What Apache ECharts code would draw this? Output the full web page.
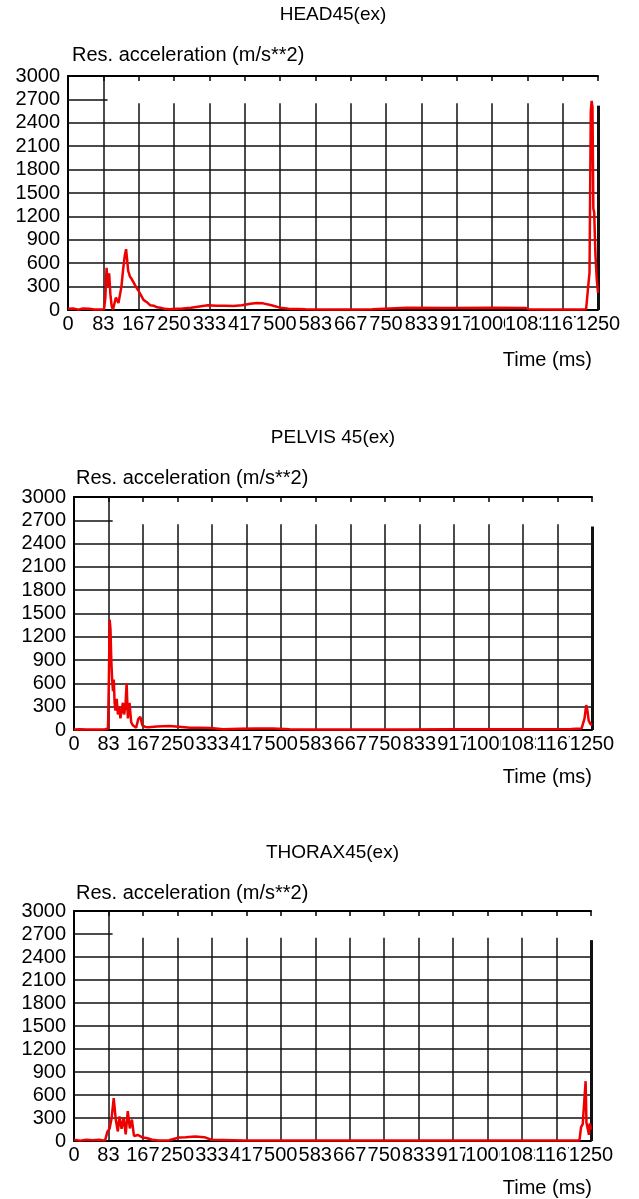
<!DOCTYPE html>
<html>
<head>
<meta charset="utf-8">
<title>Res. acceleration</title>
<script src="https://cdn.jsdelivr.net/npm/echarts@6/dist/echarts.min.js"></script>
<style>
html, body { margin: 0; padding: 0; background: #fff; }
#main { width: 639px; height: 1199px; }
</style>
</head>
<body>
<div id="main"></div>
<script>
// x axis: 0..1250 ms in 15 steps, labels as printed on the original plot
var xTickLabels = ['0', '83', '167', '250', '333', '417', '500', '583', '667', '750', '833', '917', '1000', '1083', '1167', '1250'];
var timeMax = 1250;
var accelMax = 3000;

// HEAD45(ex)
var headTime = [0, 12, 25, 35, 50, 62, 75, 85, 88, 91, 94, 97, 100, 103, 106, 110, 113, 116, 119, 122, 126, 130, 134, 137,
	140, 142, 146, 150, 154, 160, 166, 172, 178, 186, 194, 202, 210, 218, 228, 240, 255, 270, 290, 310, 330, 350, 370, 390,
	410, 430, 445, 460, 480, 500, 520, 560, 620, 680, 718, 722, 800, 900, 1000, 1080, 1086, 1150, 1200, 1222, 1226, 1230,
	1233, 1235, 1237, 1239, 1241, 1244, 1247, 1250];
var headAccel = [15, 20, 5, 20, 15, 5, 5, 10, 150, 540, 300, 470, 200, 50, 5, 10, 160, 170, 90, 100, 300, 520, 700, 780,
	760, 500, 430, 400, 360, 300, 250, 190, 130, 100, 60, 55, 35, 30, 15, 10, 15, 20, 30, 45, 60, 55, 55, 50,
	60, 80, 90, 85, 60, 30, 15, 10, 8, 8, 10, 25, 28, 25, 28, 25, 10, 8, 8, 10, 250, 480,
	2550, 2680, 2600, 1300, 1250, 700, 400, 220];

// PELVIS 45(ex)
var pelvisTime = [0, 15, 30, 45, 60, 75, 82, 84, 86, 88, 90, 92, 94, 96, 98, 100, 103, 106, 109, 112, 115, 118, 121, 124,
	127, 130, 134, 138, 142, 146, 150, 155, 160, 165, 172, 180, 200, 230, 260, 280, 300, 330, 360, 400, 440, 480, 520, 560,
	600, 700, 800, 900, 1000, 1100, 1200, 1225, 1232, 1236, 1239, 1242, 1246, 1250];
var pelvisAccel = [5, 10, 5, 8, 5, 10, 20, 600, 1420, 1300, 900, 650, 500, 650, 350, 250, 400, 200, 300, 150, 250, 350, 200, 300,
	600, 150, 350, 100, 60, 80, 30, 140, 170, 60, 40, 35, 45, 50, 40, 30, 30, 25, 10, 15, 20, 18, 10, 8,
	8, 8, 8, 10, 10, 10, 12, 20, 150, 320, 250, 120, 80, 60];

// THORAX45(ex)
var thoraxTime = [0, 15, 30, 45, 60, 75, 81, 86, 91, 96, 101, 106, 110, 115, 120, 125, 130, 135, 140, 145, 155, 165, 175, 189,
	204, 230, 254, 270, 293, 315, 332, 360, 411, 500, 600, 700, 800, 900, 1000, 1100, 1200, 1222, 1226, 1230, 1234, 1237,
	1239, 1242, 1245, 1247, 1250];
var thoraxAccel = [15, 5, 15, 10, 15, 5, 125, 160, 300, 560, 280, 125, 320, 160, 300, 86, 390, 164, 280, 66, 78, 47, 39, 16,
	8, 10, 45, 50, 58, 50, 16, 12, 5, 5, 5, 5, 5, 5, 5, 5, 5, 8, 180, 220, 230, 780,
	240, 240, 80, 230, 150];

var panelNames = ['HEAD45(ex)', 'PELVIS 45(ex)', 'THORAX45(ex)'];
var panelTimes = [headTime, pelvisTime, thoraxTime];
var panelAccels = [headAccel, pelvisAccel, thoraxAccel];

// 画布上的位置 (px)
var layout = [
	{ left: 68, right: 598, top: 76, bottom: 310, titleY: 15, nameX: 72, nameY: 55, timeY: 360 },
	{ left: 74, right: 592, top: 497, bottom: 730, titleY: 438, nameX: 76, nameY: 478, timeY: 777 },
	{ left: 74, right: 591, top: 911, bottom: 1141, titleY: 853, nameX: 76, nameY: 893, timeY: 1188 }
];

var fontFamily = '"Liberation Sans", Arial, sans-serif';
var xStep = timeMax / (xTickLabels.length - 1);

function zip(xs, ys) {
	var out = [];
	for (var i = 0; i < xs.length; i++) {
		out.push([xs[i], ys[i]]);
	}
	return out;
}

// grid lines of the original plotter: full horizontals, verticals stopping short of the top
function gridLines() {
	var lines = [];
	for (var v = 300; v <= 2400; v += 300) {
		lines.push([{ coord: [0, v] }, { coord: [timeMax, v] }]);
	}
	lines.push([{ coord: [0, 2700] }, { coord: [xStep * 1.12, 2700] }]);
	for (var i = 1; i < xTickLabels.length - 1; i++) {
		lines.push([{ coord: [i * xStep, 0] }, { coord: [i * xStep, i == 1 ? accelMax : 2650] }]);
	}
	lines.push([{ coord: [timeMax, 0], lineStyle: { width: 3 } }, { coord: [timeMax, 2620] }]);
	return lines;
}

var grids = [], xAxes = [], yAxes = [], series = [], texts = [];
for (var p = 0; p < 3; p++) {
	var L = layout[p];
	grids.push({
		left: L.left, top: L.top,
		width: L.right - L.left, height: L.bottom - L.top,
		containLabel: false, outerBoundsMode: 'none'
	});
	// bottom axis: the printed tick labels, all of them, overlapping like the original
	xAxes.push({
		type: 'category', gridIndex: p, position: 'bottom',
		data: xTickLabels, boundaryGap: false,
		axisLine: { onZero: false, lineStyle: { color: '#000', width: 2 } },
		axisTick: { show: false },
		splitLine: { show: false },
		axisLabel: {
			interval: 0, color: '#000', fontSize: 20, fontFamily: fontFamily, margin: 4,
			backgroundColor: '#fff', padding: 0, hideOverlap: false
		}
	});
	// top border with small inward ticks; this is the time scale the curve uses
	xAxes.push({
		type: 'value', gridIndex: p, position: 'top',
		min: 0, max: timeMax, interval: xStep,
		axisLine: { onZero: false, lineStyle: { color: '#000', width: 2 } },
		axisTick: { show: true, inside: true, length: 5, lineStyle: { color: '#000', width: 1.5 } },
		splitLine: { show: false },
		axisLabel: { show: false }
	});
	yAxes.push({
		type: 'value', gridIndex: p,
		min: 0, max: accelMax, interval: 300,
		axisLine: { show: true, onZero: false, lineStyle: { color: '#000', width: 2 } },
		axisTick: { show: false },
		splitLine: { show: false },
		axisLabel: {
			color: '#000', fontSize: 20, fontFamily: fontFamily, margin: 8,
			hideOverlap: false,
			formatter: function (v) { return String(Math.round(v)); }
		}
	});
	series.push({
		type: 'line', name: panelNames[p],
		xAxisIndex: 2 * p + 1, yAxisIndex: p,
		data: zip(panelTimes[p], panelAccels[p]),
		showSymbol: false, z: 10,
		lineStyle: { color: '#ee0000', width: 2.5 },
		markLine: {
			silent: true, z: 1, animation: false,
			symbol: ['none', 'none'],
			label: { show: false },
			lineStyle: { color: '#111', width: 1.5, type: 'solid' },
			emphasis: { disabled: true },
			data: gridLines()
		}
	});
	texts.push({
		type: 'text', x: (L.left + L.right) / 2, y: L.titleY, silent: true,
		style: { text: panelNames[p], font: '19px ' + fontFamily, fill: '#000',
			align: 'center', verticalAlign: 'middle', textAlign: 'center', textVerticalAlign: 'middle' }
	});
	texts.push({
		type: 'text', x: L.nameX, y: L.nameY, silent: true,
		style: { text: 'Res. acceleration (m/s**2)', font: '20px ' + fontFamily, fill: '#000',
			align: 'left', verticalAlign: 'middle', textAlign: 'left', textVerticalAlign: 'middle' }
	});
	texts.push({
		type: 'text', x: 592, y: L.timeY, silent: true,
		style: { text: 'Time (ms)', font: '20px ' + fontFamily, fill: '#000',
			align: 'right', verticalAlign: 'middle', textAlign: 'right', textVerticalAlign: 'middle' }
	});
}

var myChart = echarts.init(document.getElementById('main'));
myChart.setOption({
	backgroundColor: '#fff',
	animation: false,
	grid: grids,
	xAxis: xAxes,
	yAxis: yAxes,
	series: series,
	graphic: texts
});
</script>
</body>
</html>
